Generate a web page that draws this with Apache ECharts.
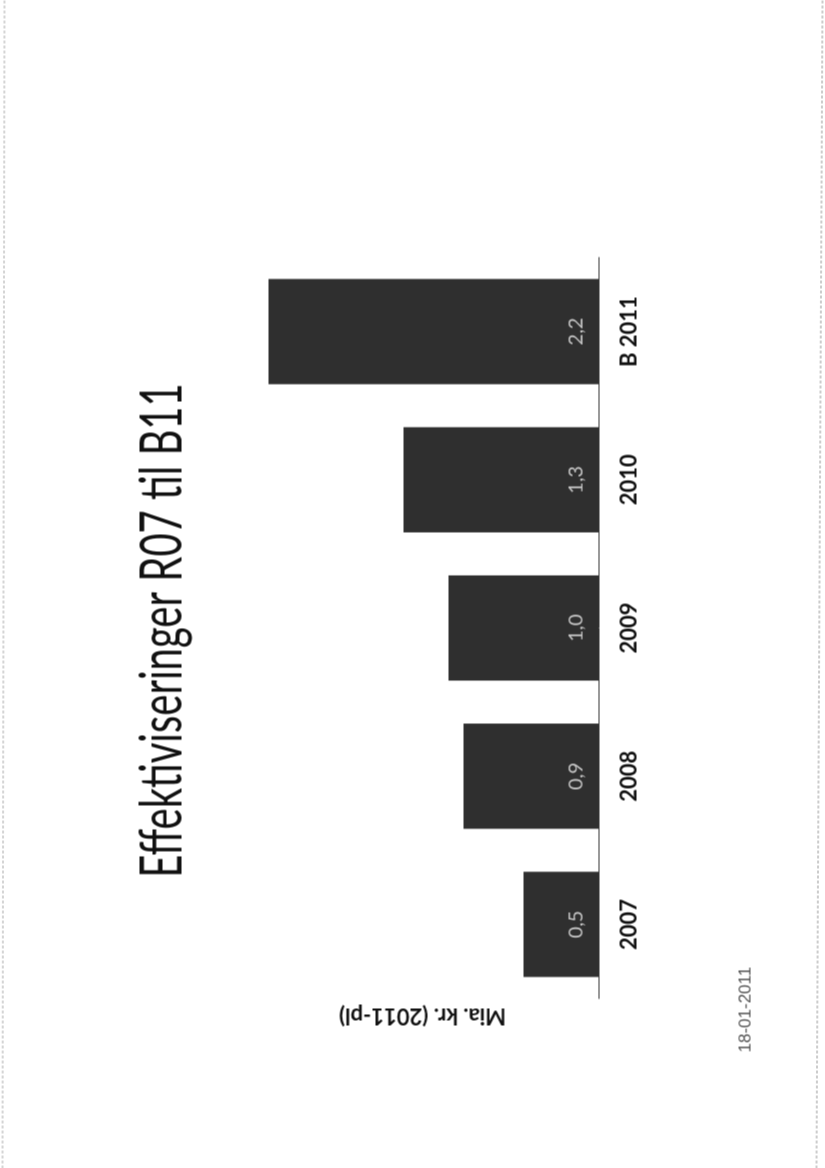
<!DOCTYPE html>
<html><head><meta charset="utf-8">
<script src="https://cdn.jsdelivr.net/npm/echarts@6/dist/echarts.min.js"></script>
<style>
html,body{margin:0;padding:0;width:825px;height:1168px;overflow:hidden;background:#fff}
#wrap{position:absolute;left:-171.5px;top:171.5px;width:1168px;height:825px;transform:rotate(-90deg);transform-origin:50% 50%}
#chart{width:1168px;height:825px}
</style></head><body>
<div id="wrap"><div id="chart"></div></div>
<script>
const categories = ['2007', '2008', '2009', '2010', 'B 2011'];
const values = [0.5, 0.9, 1.0, 1.3, 2.2];
const valueLabels = ['0,5', '0,9', '1,0', '1,3', '2,2'];
const titleText = 'Effektiviseringer R07 til B11';
const axisName = 'Mia. kr. (2011-pl)';
const dateText = '18-01-2011';

const chart = echarts.init(document.getElementById('chart'), null, {renderer: 'canvas'});
chart.setOption({
  backgroundColor: '#ffffff',
  animation: false,
  grid: {left: 170, right: 257, top: 268, bottom: 227, containLabel: false},
  xAxis: {
    type: 'category',
    data: categories,
    axisLine: {show: true, lineStyle: {color: '#333', width: 1}},
    axisTick: {show: false},
    axisLabel: {fontFamily: 'Lato, "Open Sans", sans-serif', fontWeight: 'bold', fontSize: 22, color: '#111', margin: 20}
  },
  yAxis: {
    type: 'value', min: 0, max: 2.2, show: false
  },
  series: [{
    type: 'bar',
    data: values,
    barCategoryGap: '29%',
    itemStyle: {color: '#2f2f2f'},
    label: {
      show: true, position: 'insideBottom', distance: 12,
      fontFamily: 'Lato, "Open Sans", sans-serif', fontSize: 20, color: '#c4c4c4',
      formatter: p => valueLabels[p.dataIndex]
    }
  }],
  graphic: [
    {type: 'text', x: 538, y: 162, scaleX: 0.69, style: {text: titleText, fontFamily: 'Lato, "Open Sans", sans-serif', fontSize: 58, fill: '#111', textAlign: 'center', textVerticalAlign: 'middle'}},
    {type: 'text', x: 153, y: 422, rotation: Math.PI / 2, style: {text: axisName, fontFamily: 'Lato, "Open Sans", sans-serif', fontWeight: 'bold', fontSize: 22, fill: '#111', textAlign: 'center', textVerticalAlign: 'middle'}},
    {type: 'text', x: 116, y: 745, style: {text: dateText, fontFamily: '"Liberation Sans Narrow", "Liberation Sans", sans-serif', fontSize: 17, fill: '#555', textAlign: 'left', textVerticalAlign: 'middle'}},
    {type: 'line', shape: {x1: 0, y1: 816, x2: 1168, y2: 822}, style: {stroke: '#999', lineWidth: 1, lineDash: [3, 2]}},
    {type: 'line', shape: {x1: 0, y1: 2, x2: 1168, y2: 4}, style: {stroke: '#aaa', lineWidth: 1, lineDash: [3, 2]}}
  ]
});
</script>
</body></html>
